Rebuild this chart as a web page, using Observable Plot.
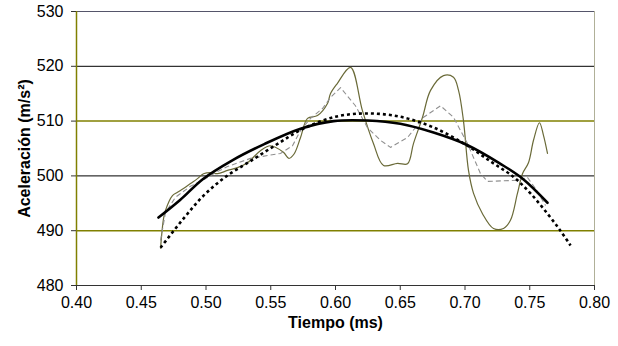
<!DOCTYPE html>
<html>
<head>
<meta charset="utf-8">
<script src="https://cdn.jsdelivr.net/npm/d3@7"></script>
<script src="https://cdn.jsdelivr.net/npm/@observablehq/plot@0.6"></script>
<style>
  html, body { margin: 0; padding: 0; background: #fff; }
  #chart { width: 618px; height: 346px; }
</style>
</head>
<body>
<div id="chart"></div>
<script>
// ---- data ----
const xTicks = [0.40, 0.45, 0.50, 0.55, 0.60, 0.65, 0.70, 0.75, 0.80];
const yTicks = [480, 490, 500, 510, 520, 530];
const gridBlack = [500, 520];
const gridOlive = [490, 510];

// raw signal (thin olive)
const rawX = [0.4649, 0.4672, 0.4687, 0.4741, 0.4780, 0.4826, 0.4880, 0.4934, 0.4981, 0.5035, 0.5089, 0.5166, 0.5243, 0.5320, 0.5420, 0.5498, 0.5598, 0.5640, 0.5680, 0.5730, 0.5784, 0.5861, 0.5938, 0.5961, 0.6015, 0.6116, 0.6208, 0.6293, 0.6371, 0.6479, 0.6556, 0.6602, 0.6672, 0.6734, 0.6834, 0.6911, 0.6950, 0.6988, 0.7027, 0.7066, 0.7135, 0.7220, 0.7297, 0.7351, 0.7405, 0.7444, 0.7490, 0.7529, 0.7575, 0.7606, 0.7637];
const rawY = [486.8, 492.2, 493.7, 496.4, 497.0, 497.7, 498.6, 499.5, 500.4, 500.6, 500.4, 501.0, 501.5, 502.4, 504.6, 505.5, 504.3, 503.2, 504.0, 507.0, 510.5, 511.0, 513.2, 515.0, 516.9, 519.8, 511.9, 505.9, 501.9, 502.3, 502.2, 505.9, 510.7, 515.6, 518.3, 518.0, 515.6, 510.1, 501.0, 496.8, 493.1, 490.4, 490.4, 491.9, 496.8, 500.4, 502.4, 506.5, 509.7, 507.4, 504.1];

// smoothed signal (thin grey dashed)
const smoothX = [0.4649, 0.4687, 0.4764, 0.4880, 0.4996, 0.5073, 0.5166, 0.5344, 0.5575, 0.5668, 0.5730, 0.5807, 0.5900, 0.5961, 0.6039, 0.6154, 0.6247, 0.6347, 0.6425, 0.6556, 0.6680, 0.6811, 0.6911, 0.7019, 0.7120, 0.7174, 0.7405, 0.7483, 0.7544, 0.7622];
const smoothY = [488.2, 493.3, 496.1, 498.1, 499.5, 500.6, 501.7, 503.2, 504.1, 505.5, 508.3, 510.5, 512.3, 514.3, 516.1, 512.8, 508.8, 506.5, 505.2, 507.0, 510.7, 512.8, 510.7, 505.9, 500.4, 499.0, 499.2, 499.7, 497.7, 494.6];

// fit 1 (thick solid)
const fit1X = [0.4633, 0.4800, 0.4975, 0.5200, 0.5450, 0.5730, 0.5985, 0.6250, 0.6500, 0.6757, 0.7020, 0.7274, 0.7450, 0.7637];
const fit1Y = [492.4, 495.6, 499.4, 502.8, 505.8, 508.6, 510.0, 510.1, 509.5, 507.9, 505.6, 502.2, 499.4, 495.1];

// fit 2 (thick dotted)
const fit2X = [0.4649, 0.4826, 0.4981, 0.5150, 0.5350, 0.5550, 0.5750, 0.6000, 0.6250, 0.6500, 0.6750, 0.7000, 0.7200, 0.7375, 0.7506, 0.7637, 0.7737, 0.7815];
const fit2Y = [486.9, 492.2, 496.4, 499.8, 502.8, 505.8, 508.6, 510.8, 511.4, 510.8, 508.9, 505.8, 502.6, 499.8, 496.8, 493.1, 490.0, 487.3];

const xTitle = "Tiempo (ms)";
const yTitle = "Aceleración (m/s²)";

// ---- build tables ----
const zip = (xs, ys) => xs.map((x, i) => ({x, y: ys[i]}));
const raw = zip(rawX, rawY);
const smooth = zip(smoothX, smoothY);
const fit1 = zip(fit1X, fit1Y);
const fit2 = zip(fit2X, fit2Y);

const chart = Plot.plot({
  width: 618,
  height: 346,
  marginLeft: 76,
  marginRight: 24,
  marginTop: 11,
  marginBottom: 61,
  style: {fontFamily: "'Liberation Sans', Arial, sans-serif", fontSize: "16px", color: "#000", background: "#fff"},
  x: {domain: [0.4, 0.8]},
  y: {domain: [480, 530]},
  marks: [
    Plot.ruleY(gridBlack, {stroke: "#000", strokeWidth: 1}),
    Plot.ruleY(gridOlive, {stroke: "#808000", strokeWidth: 1.5}),
    Plot.ruleY([530], {stroke: "#55556a", strokeWidth: 1}),
    Plot.ruleX([0.8], {stroke: "#b0b098", strokeWidth: 1}),
    Plot.ruleX([0.4], {stroke: "#808000", strokeWidth: 1.5}),
    Plot.ruleY([480], {stroke: "#333", strokeWidth: 1}),
    Plot.axisX({ticks: xTicks, tickFormat: d => d.toFixed(2), tickSize: 5, tickPadding: 6, label: null, stroke: "#333", fontSize: 16}),
    Plot.axisY({ticks: yTicks, tickSize: 5, tickPadding: 8, label: null, stroke: "#333", fontSize: 16}),
    Plot.line(raw, {x: "x", y: "y", stroke: "#6a6a38", strokeWidth: 1.2, curve: "catmull-rom"}),
    Plot.line(smooth, {x: "x", y: "y", stroke: "#909090", strokeWidth: 1.1, strokeDasharray: "5,3", strokeLinecap: "butt"}),
    Plot.line(fit1, {x: "x", y: "y", stroke: "#000", strokeWidth: 2.6, curve: "catmull-rom"}),
    Plot.line(fit2, {x: "x", y: "y", stroke: "#000", strokeWidth: 2.6, strokeDasharray: "3,3", strokeLinecap: "butt", curve: "catmull-rom"}),
    Plot.text([xTitle], {frameAnchor: "bottom", dy: 42, fontWeight: "bold", fontSize: 16, textAnchor: "middle"}),
    Plot.text([yTitle], {frameAnchor: "left", dx: -52, rotate: -90, fontWeight: "bold", fontSize: 16, textAnchor: "middle"})
  ]
});
document.getElementById("chart").appendChild(chart);
</script>
</body>
</html>
